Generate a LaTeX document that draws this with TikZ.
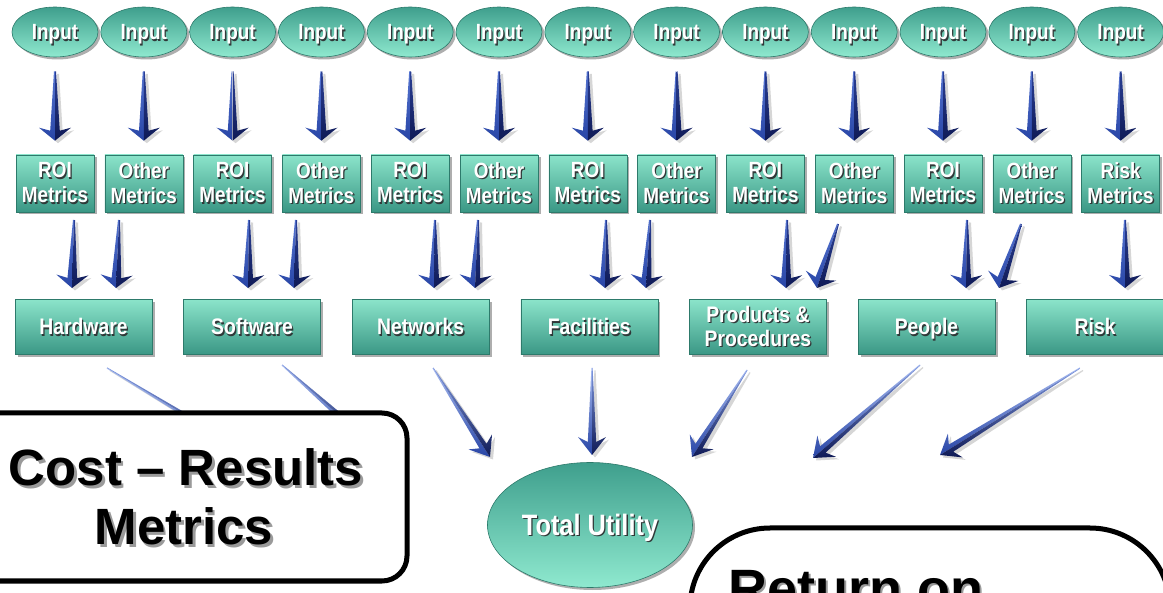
\documentclass[tikz,border=0pt]{standalone}
\usepackage{fontspec}
\setmainfont{Liberation Sans}
\newfontfamily\narrowfont[FakeStretch=0.86]{Liberation Sans}
\usetikzlibrary{calc,shapes.geometric,shadows}
\definecolor{ellTop}{HTML}{3F9F8D}
\definecolor{ellBot}{HTML}{8FE9CF}
\definecolor{boxTop}{HTML}{8BE4CA}
\definecolor{boxBot}{HTML}{3A9785}
\definecolor{tealEdge}{HTML}{2D7A6B}
\definecolor{txtShadow}{HTML}{303838}
\definecolor{calloutShadow}{HTML}{9A9A9A}
\definecolor{arrLtopA}{HTML}{5574D0}
\definecolor{arrDtopA}{HTML}{2A3F95}
\definecolor{arrLtopB}{HTML}{A9BDF2}
\definecolor{arrDtopB}{HTML}{7F98E0}
\definecolor{arrLbot}{HTML}{2845A6}
\definecolor{arrDbot}{HTML}{0F1A56}
\newcommand\sh[1]{\leavevmode\rlap{\kern1.3pt\raisebox{-1.3pt}{\textcolor{txtShadow}{#1}}}#1}
\newcommand\shb[1]{\leavevmode\rlap{\kern2.5pt\raisebox{-2.5pt}{\textcolor{calloutShadow}{#1}}}#1}
% tapered 3D arrow: start, tip, start half width, neck half width, head half width, barb distance, neck distance, colour set
\newcommand\tarrow[8]{%
  \coordinate (tAn) at ($(#2)!#7!(#1)$);
  \coordinate (tAb) at ($(#2)!#6!(#1)$);
  \coordinate (tAsR) at ($(#1)!#3!90:(#2)$);
  \coordinate (tAsL) at ($(#1)!#3!-90:(#2)$);
  \coordinate (tAnR) at ($(tAn)!#4!90:(#2)$);
  \coordinate (tAnL) at ($(tAn)!#4!-90:(#2)$);
  \coordinate (tAbR) at ($(tAb)!#5!90:(#2)$);
  \coordinate (tAbL) at ($(tAb)!#5!-90:(#2)$);
  \fill[black,opacity=.16,transform canvas={shift={(3pt,-2.5pt)}}] (tAsR) -- (tAnR) -- (tAbR) -- (#2) -- (tAbL) -- (tAnL) -- (tAsL) -- cycle;
  \shade[top color=arrLtop#8, bottom color=arrLbot] (tAsL) -- (tAnL) -- (tAbL) -- (#2) -- (#1) -- cycle;
  \shade[top color=arrDtop#8, bottom color=arrDbot] (tAsR) -- (tAnR) -- (tAbR) -- (#2) -- (#1) -- cycle;
}
\begin{document}
\begin{tikzpicture}[x=1pt,y=-1pt,
  tealshadow/.style={drop shadow={shadow xshift=2.5pt,shadow yshift=-2.5pt,opacity=.45,fill=black!70}},
  inputnode/.style={ellipse, minimum width=86pt, minimum height=50pt, inner sep=0pt,
    top color=ellTop, bottom color=ellBot, draw=tealEdge, line width=0.6pt, tealshadow,
    text=white, text height=15.8pt, text depth=0pt, font=\narrowfont\bfseries\fontsize{22}{24}\selectfont},
  metricnode/.style={rectangle, minimum width=78pt, minimum height=57pt, inner sep=0pt,
    top color=boxTop, bottom color=boxBot, draw=tealEdge, line width=0.6pt, tealshadow,
    text=white, align=center, font=\narrowfont\bfseries\fontsize{22}{25}\selectfont},
  catnode/.style={metricnode, minimum width=137pt, minimum height=55pt, font=\narrowfont\bfseries\fontsize{22.5}{24}\selectfont},
  catone/.style={catnode, text height=16pt, text depth=0pt},
  tunode/.style={inputnode, minimum width=205pt, minimum height=125pt, text height=21pt, text depth=0pt,
    font=\narrowfont\bfseries\fontsize{29.5}{31}\selectfont},
  callout/.style={rectangle, draw=black, line width=5pt, fill=white, rounded corners=25pt, inner sep=0pt},
  callouttext/.style={text=black, inner sep=0pt, font=\bfseries\fontsize{51}{59}\selectfont},
]
\path[use as bounding box] (0,0) rectangle (1163,593);
\clip (0,0) rectangle (1163,593);
\fill[white] (0,0) rectangle (1163,593);

% inputs and metrics
\foreach \i/\lbl in {1/ROI,2/Other,3/ROI,4/Other,5/ROI,6/Other,7/ROI,8/Other,9/ROI,10/Other,11/ROI,12/Other,13/Risk}{
  \pgfmathsetmacro\xx{55+88.8*(\i-1)}
  \node[inputnode] (in\i) at (\xx,32) {\sh{Input}};
  \node[metricnode] (m\i) at (\xx,183.5) {\sh{\lbl}\\\sh{Metrics}};
}
\foreach \i in {1,...,13}{
  \coordinate (a\i) at ($(in\i.south)+(0,14)$);
  \coordinate (b\i) at ($(m\i.north)+(0,-14)$);
  \tarrow{a\i}{b\i}{1pt}{4.8pt}{16pt}{13pt}{10pt}{A}
}

% categories
\node[catone] (hw)   at (83.5,327)  {\sh{Hardware}};
\node[catone] (sw)   at (252.1,327) {\sh{Software}};
\node[catone] (nw)   at (420.7,327) {\sh{Networks}};
\node[catone] (fac)  at (589.3,327) {\sh{Facilities}};
\node[catnode] (prod) at (757.9,327) {\sh{Products \&}\\\sh{Procedures}};
\node[catone] (ppl)  at (926.5,327) {\sh{People}};
\node[catone] (risk) at (1095.1,327) {\sh{Risk}};

% metrics -> categories
\foreach \n/\sx/\sy/\tx in {1/74/220/72, 2/119/220/116, 3/249/220/248, 4/296/220/294,
    5/435/220/434, 6/478/220/475, 7/606/220/605, 8/650/220/646, 9/787/220/786,
    10/838/224/817, 11/967/220/966, 12/1021/224/999, 13/1125/220/1125}{
  \coordinate (c\n) at (\sx,\sy);
  \coordinate (d\n) at (\tx,288);
  \tarrow{c\n}{d\n}{1pt}{4.8pt}{16pt}{13pt}{10pt}{A}
}

% categories -> total utility
\foreach \n/\sx/\sy/\tx/\ty in {1/107/368/330/502, 2/282/365/385/456, 3/433/368/490/457,
    4/592/368/592/455, 5/747/370/692/457, 6/920/365/813/458, 7/1080/368/940/455}{
  \coordinate (e\n) at (\sx,\sy);
  \coordinate (f\n) at (\tx,\ty);
  \tarrow{e\n}{f\n}{0.6pt}{4.2pt}{14pt}{18pt}{13pt}{B}
}

\node[tunode] (tu) at (590,525) {\sh{Total Utility}};

% callouts
\node[callout, minimum width=450pt, minimum height=168pt] (cost) at (182,497) {};
\node[callouttext, anchor=base] at (186,486) {\shb{Cost – Results}};
\node[callouttext, anchor=base] at (184,545) {\shb{Metrics}};

\node[callout, rounded corners=80pt, minimum width=480pt, minimum height=220pt] (roi) at (930,638) {};
\node[callouttext, anchor=base west, font=\bfseries\fontsize{54}{60}\selectfont] at (728,607) {\shb{Return on}};
\end{tikzpicture}
\end{document}
